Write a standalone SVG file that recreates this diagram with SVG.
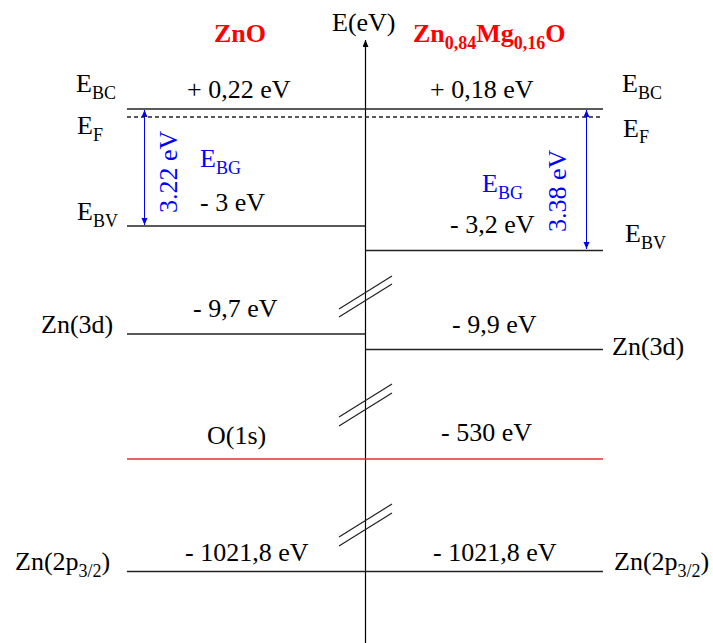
<svg xmlns="http://www.w3.org/2000/svg" width="713" height="643" viewBox="0 0 713 643" font-family="'Liberation Serif', 'DejaVu Serif', serif">
<style>
text{font-family:'Liberation Serif','DejaVu Serif',serif;font-size:26px;fill:#000}
.t{fill:#ff0000;font-weight:bold}
.b{fill:#0000ff}
.s{font-size:18px}
.lv{stroke:#222;stroke-width:1.5;fill:none}
.br{stroke:#222;stroke-width:1.2}
.gap{stroke:#0000ff;stroke-width:1}
</style>
<defs>
<marker id="ab" markerUnits="userSpaceOnUse" markerWidth="8" markerHeight="8" refX="7" refY="3" orient="auto-start-reverse"><path d="M0,0 L7,3 L0,6 Z" fill="#0000ff"/></marker>
<marker id="ak" markerUnits="userSpaceOnUse" markerWidth="8" markerHeight="8" refX="7" refY="3" orient="auto"><path d="M0,0 L7,3 L0,6 Z" fill="#000"/></marker>
</defs>
<g id="connectors">
<line id="axis" x1="365.5" y1="643" x2="365.5" y2="40" stroke="#000" stroke-width="1.2" marker-end="url(#ak)"/>
<line x1="144.5" y1="110" x2="144.5" y2="225" class="gap" marker-start="url(#ab)" marker-end="url(#ab)"/>
<line x1="586.5" y1="110" x2="586.5" y2="249" class="gap" marker-start="url(#ab)" marker-end="url(#ab)"/>
<g id="breaks">
<line class="br" x1="339" y1="309" x2="392" y2="276"/>
<line class="br" x1="339" y1="317" x2="392" y2="284"/>
<line class="br" x1="339" y1="417" x2="392" y2="384"/>
<line class="br" x1="339" y1="426" x2="392" y2="393"/>
<line class="br" x1="339" y1="537" x2="392" y2="504"/>
<line class="br" x1="339" y1="546" x2="392" y2="513"/>
</g>
</g>
<g id="axis-label"><text x="332" y="31">E(eV)</text></g>
<g id="title-zno"><text class="t" x="214" y="42">ZnO</text></g>
<g id="title-znmgo"><text class="t" x="413" y="42">Zn<tspan class="s" dy="7">0,84</tspan><tspan dy="-7">Mg</tspan><tspan class="s" dy="7">0,16</tspan><tspan dy="-7">O</tspan></text></g>
<g id="ebc">
<line class="lv" x1="127" y1="109" x2="603" y2="109"/>
<text x="76" y="92">E<tspan class="s" dy="7">BC</tspan></text>
<text x="622" y="92">E<tspan class="s" dy="7">BC</tspan></text>
<text x="187" y="98">+ 0,22 eV</text>
<text x="430" y="98">+ 0,18 eV</text>
</g>
<g id="ef">
<line class="lv" x1="127" y1="117" x2="603" y2="117" stroke-dasharray="4 3" stroke-width="1.2"/>
<text x="77" y="134">E<tspan class="s" dy="7">F</tspan></text>
<text x="623" y="137">E<tspan class="s" dy="6">F</tspan></text>
</g>
<g id="ebv-zno">
<line class="lv" x1="127" y1="226" x2="365.5" y2="226" stroke="#555"/>
<text x="77" y="220">E<tspan class="s" dy="7">BV</tspan></text>
<text x="200" y="211">- 3 eV</text>
<text class="b" x="200" y="167">E<tspan class="s" dy="7">BG</tspan></text>
<text class="b" transform="translate(177,213) rotate(-90)">3.22 eV</text>
</g>
<g id="ebv-znmgo">
<line class="lv" x1="365.5" y1="250.5" x2="603" y2="250.5" stroke="#555"/>
<text x="625" y="242">E<tspan class="s" dy="7">BV</tspan></text>
<text x="450" y="233">- 3,2 eV</text>
<text class="b" x="482" y="192">E<tspan class="s" dy="7">BG</tspan></text>
<text class="b" transform="translate(566,232) rotate(-90)">3.38 eV</text>
</g>
<g id="zn3d-zno">
<line class="lv" x1="127" y1="334" x2="365.5" y2="334"/>
<text x="41" y="333">Zn(3d)</text>
<text x="193" y="317">- 9,7 eV</text>
</g>
<g id="zn3d-znmgo">
<line class="lv" x1="365.5" y1="349.5" x2="603" y2="349.5" stroke="#555"/>
<text x="612" y="355">Zn(3d)</text>
<text x="452" y="333">- 9,9 eV</text>
</g>
<g id="o1s">
<line x1="127" y1="459" x2="603" y2="459" stroke="#e03030" stroke-width="1.5"/>
<text x="207" y="444">O(1s)</text>
<text x="441" y="441">- 530 eV</text>
</g>
<g id="zn2p">
<line class="lv" x1="127" y1="571.5" x2="603" y2="571.5"/>
<text x="15" y="570">Zn(2p<tspan class="s" dy="7">3/2</tspan><tspan dy="-7">)</tspan></text>
<text x="185" y="561">- 1021,8 eV</text>
<text x="433" y="561">- 1021,8 eV</text>
<text x="614" y="570">Zn(2p<tspan class="s" dy="7">3/2</tspan><tspan dy="-7">)</tspan></text>
</g>
</svg>
